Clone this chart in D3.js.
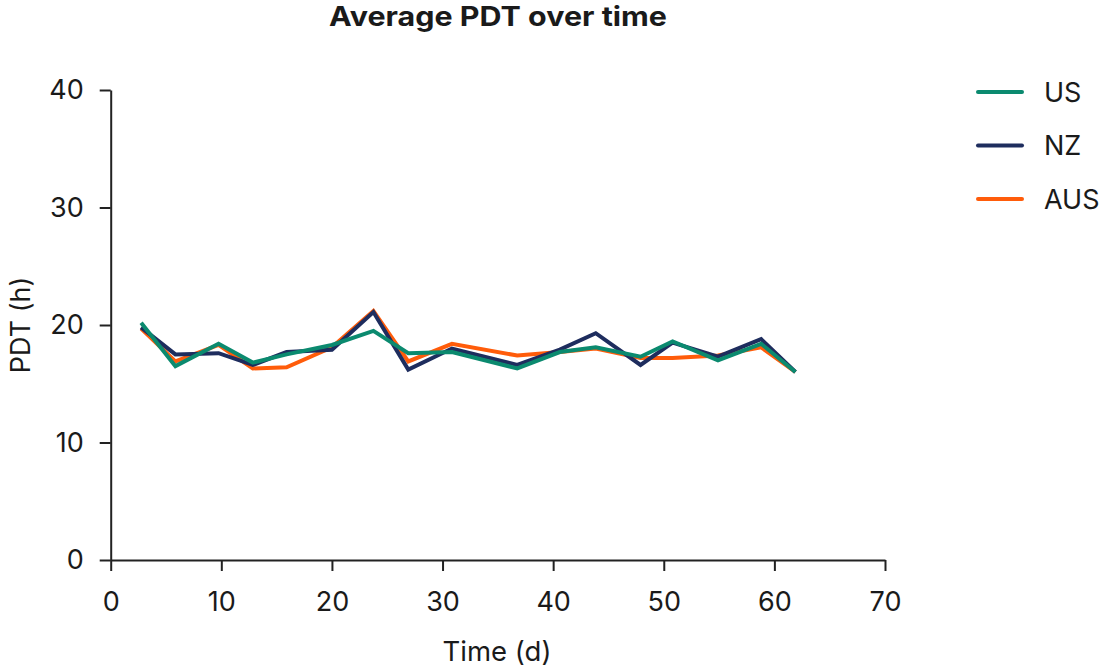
<!DOCTYPE html>
<html>
<head>
<meta charset="utf-8">
<script src="https://cdn.jsdelivr.net/npm/d3@7"></script>
<style>
  body { margin: 0; background: #fff; }
  text { font-family: Inter, "Noto Sans", sans-serif; fill: #1a1a1a; }
</style>
</head>
<body>
<div id="chart"></div>
<script>
const days = [2.75, 5.85, 9.75, 12.85, 15.9, 20, 23.75, 26.9, 30.85, 36.75, 40.6, 43.85, 47.9, 50.8, 54.9, 58.8, 61.9];
const us  = [20.2, 16.5, 18.4, 16.8, 17.5, 18.3, 19.5, 17.6, 17.7, 16.3, 17.7, 18.1, 17.3, 18.6, 17.0, 18.4, 16.0];
const nz  = [19.8, 17.5, 17.6, 16.6, 17.7, 17.9, 21.1, 16.2, 18.0, 16.6, 17.9, 19.3, 16.6, 18.5, 17.3, 18.8, 16.0];
const aus = [19.7, 16.9, 18.3, 16.3, 16.4, 18.1, 21.2, 16.9, 18.4, 17.4, 17.7, 18.0, 17.2, 17.2, 17.4, 18.1, 16.0];
const seriesNames = ["US", "NZ", "AUS"];
const colors = ["#0b8a6f", "#1e2d5e", "#ff5c0a"];
const xTicks = [0, 10, 20, 30, 40, 50, 60, 70];
const yTicks = [0, 10, 20, 30, 40];

const width = 1102, height = 668;
const svg = d3.select("#chart").append("svg")
  .attr("width", width).attr("height", height);

const x = d3.scaleLinear().domain([0, 70]).range([110.7, 885]);
const y = d3.scaleLinear().domain([0, 40]).range([560, 90]);

// axes
const xAxis = svg.append("g")
  .attr("transform", `translate(0,${y(0)})`)
  .call(d3.axisBottom(x).tickValues(xTicks).tickSize(11).tickPadding(21).tickSizeOuter(0));
const yAxis = svg.append("g")
  .attr("transform", `translate(${x(0)},0)`)
  .call(d3.axisLeft(y).tickValues(yTicks).tickSize(11).tickPadding(16).tickSizeOuter(0));

[xAxis, yAxis].forEach(g => {
  g.selectAll("path, line").attr("stroke", "#222").attr("stroke-width", 2);
  g.selectAll("text").attr("font-size", 27).attr("font-family", "Inter, sans-serif").attr("fill", "#1a1a1a");
});

// title and axis labels
svg.append("text")
  .attr("x", 498).attr("y", 26)
  .attr("text-anchor", "middle")
  .attr("font-family", "'Liberation Sans', Arial, sans-serif")
  .attr("font-weight", "bold")
  .attr("font-size", 27)
  .attr("textLength", 338)
  .attr("lengthAdjust", "spacingAndGlyphs")
  .text("Average PDT over time");

svg.append("text")
  .attr("x", 497).attr("y", 661)
  .attr("text-anchor", "middle")
  .attr("font-size", 27.5)
  .text("Time (d)");

svg.append("text")
  .attr("transform", `translate(30,${y(20)}) rotate(-90)`)
  .attr("text-anchor", "middle")
  .attr("font-size", 27)
  .text("PDT (h)");

// lines
const line = d3.line().x((d, i) => x(days[i])).y(d => y(d));
const data = [us, nz, aus];
const drawOrder = [2, 1, 0];
svg.append("g").selectAll("path")
  .data(drawOrder)
  .join("path")
  .attr("d", i => line(data[i]))
  .attr("fill", "none")
  .attr("stroke", i => colors[i])
  .attr("stroke-width", 4)
  .attr("stroke-linejoin", "miter");

// legend
const legend = svg.append("g").selectAll("g")
  .data(seriesNames)
  .join("g")
  .attr("transform", (d, i) => `translate(978,${92 + i * 53.5})`);
legend.append("line")
  .attr("x1", 0).attr("x2", 44)
  .attr("stroke", (d, i) => colors[i])
  .attr("stroke-width", 4)
  .attr("stroke-linecap", "round");
legend.append("text")
  .attr("x", 66).attr("dy", "0.36em")
  .attr("font-size", 27)
  .text(d => d);
</script>
</body>
</html>
